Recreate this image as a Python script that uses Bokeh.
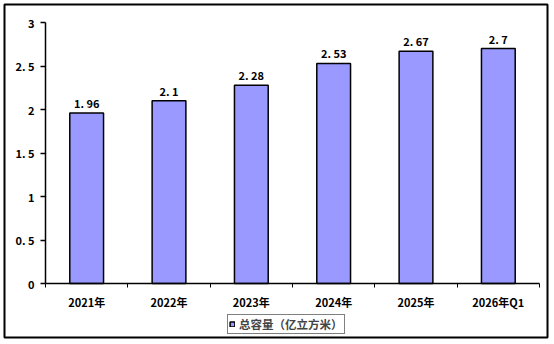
from bokeh.plotting import figure
from bokeh.models import ColumnDataSource, FixedTicker, Range1d, Legend, LegendItem
from bokeh.core.properties import value
from bokeh.embed import file_html
from bokeh.resources import INLINE

categories = ["2021年", "2022年", "2023年", "2024年", "2025年", "2026年Q1"]
values = [1.96, 2.1, 2.28, 2.53, 2.67, 2.7]
series_name = "总容量（亿立方米）"
y_ticks = [0, 0.5, 1, 1.5, 2, 2.5, 3]
y_tick_labels = ["0", "0. 5", "1", "1. 5", "2", "2. 5", "3"]

FONT = "Noto Sans CJK SC"
n = len(categories)

xs = [i + 0.5 for i in range(n)]
labels = [("%g" % v).replace(".", ". ") for v in values]
src = ColumnDataSource(dict(x=xs, top=values, label=labels))

# frame = outer chart border (4..547 x 4..337); plot area 45..539 x 22..283
sx = 494 / n
sy = 261 / 3
p = figure(width=554, height=344, output_backend="svg", toolbar_location=None,
           x_range=Range1d(-41 / sx, n + 8 / sx),
           y_range=Range1d(-54 / sy, 3 + 18 / sy),
           min_border_left=4, min_border_right=7, min_border_top=4,
           min_border_bottom=7)
p.outline_line_color = "black"
p.outline_line_width = 2
p.grid.grid_line_color = None
p.background_fill_color = "white"
p.border_fill_color = "white"

r = p.vbar(x="x", top="top", width=0.41, source=src, fill_color="#9999FF",
           line_color="black", line_width=1.5)
p.text(x="x", y="top", text="label", source=src, text_align="center",
       text_baseline="bottom", y_offset=-2, text_font=value(FONT),
       text_font_style="bold", text_font_size="11px", text_color="black")

# y axis
ya = p.yaxis[0]
ya.fixed_location = 0
ya.bounds = (0, 3)
ya.ticker = FixedTicker(ticks=y_ticks)
ya.major_label_overrides = {t: l for t, l in zip(y_ticks, y_tick_labels)}
ya.major_tick_out = 5
ya.major_tick_in = 0
ya.minor_tick_out = 0
ya.minor_tick_in = 0
ya.axis_line_width = 1.5
ya.major_tick_line_width = 1.5
ya.major_label_standoff = 6
ya.major_label_text_font = FONT
ya.major_label_text_font_style = "bold"
ya.major_label_text_font_size = "11px"
ya.major_label_text_color = "black"

# x axis
xa = p.xaxis[0]
xa.fixed_location = 0
xa.bounds = (0, n)
xa.ticker = FixedTicker(ticks=xs, minor_ticks=list(range(n + 1)))
xa.major_label_overrides = {x: c for x, c in zip(xs, categories)}
xa.major_tick_out = 0
xa.major_tick_in = 0
xa.minor_tick_out = 4
xa.minor_tick_in = 0
xa.minor_tick_line_color = "black"
xa.axis_line_width = 1.5
xa.major_label_standoff = 6
xa.major_label_text_font = FONT
xa.major_label_text_font_style = "bold"
xa.major_label_text_font_size = "11px"
xa.major_label_text_color = "black"

legend = Legend(items=[LegendItem(label=series_name, renderers=[r])],
                location=(223, 3), orientation="horizontal",
                label_text_font=FONT, label_text_font_style="bold",
                label_text_font_size="11.5px", label_text_line_height=1.0,
                border_line_color="black", border_line_width=1.5,
                glyph_width=6, glyph_height=6, label_standoff=4,
                padding=1, margin=0, spacing=0, label_height=11,
                label_width=10)
p.add_layout(legend, "center")

open("out.html", "w").write(file_html(p, INLINE))
